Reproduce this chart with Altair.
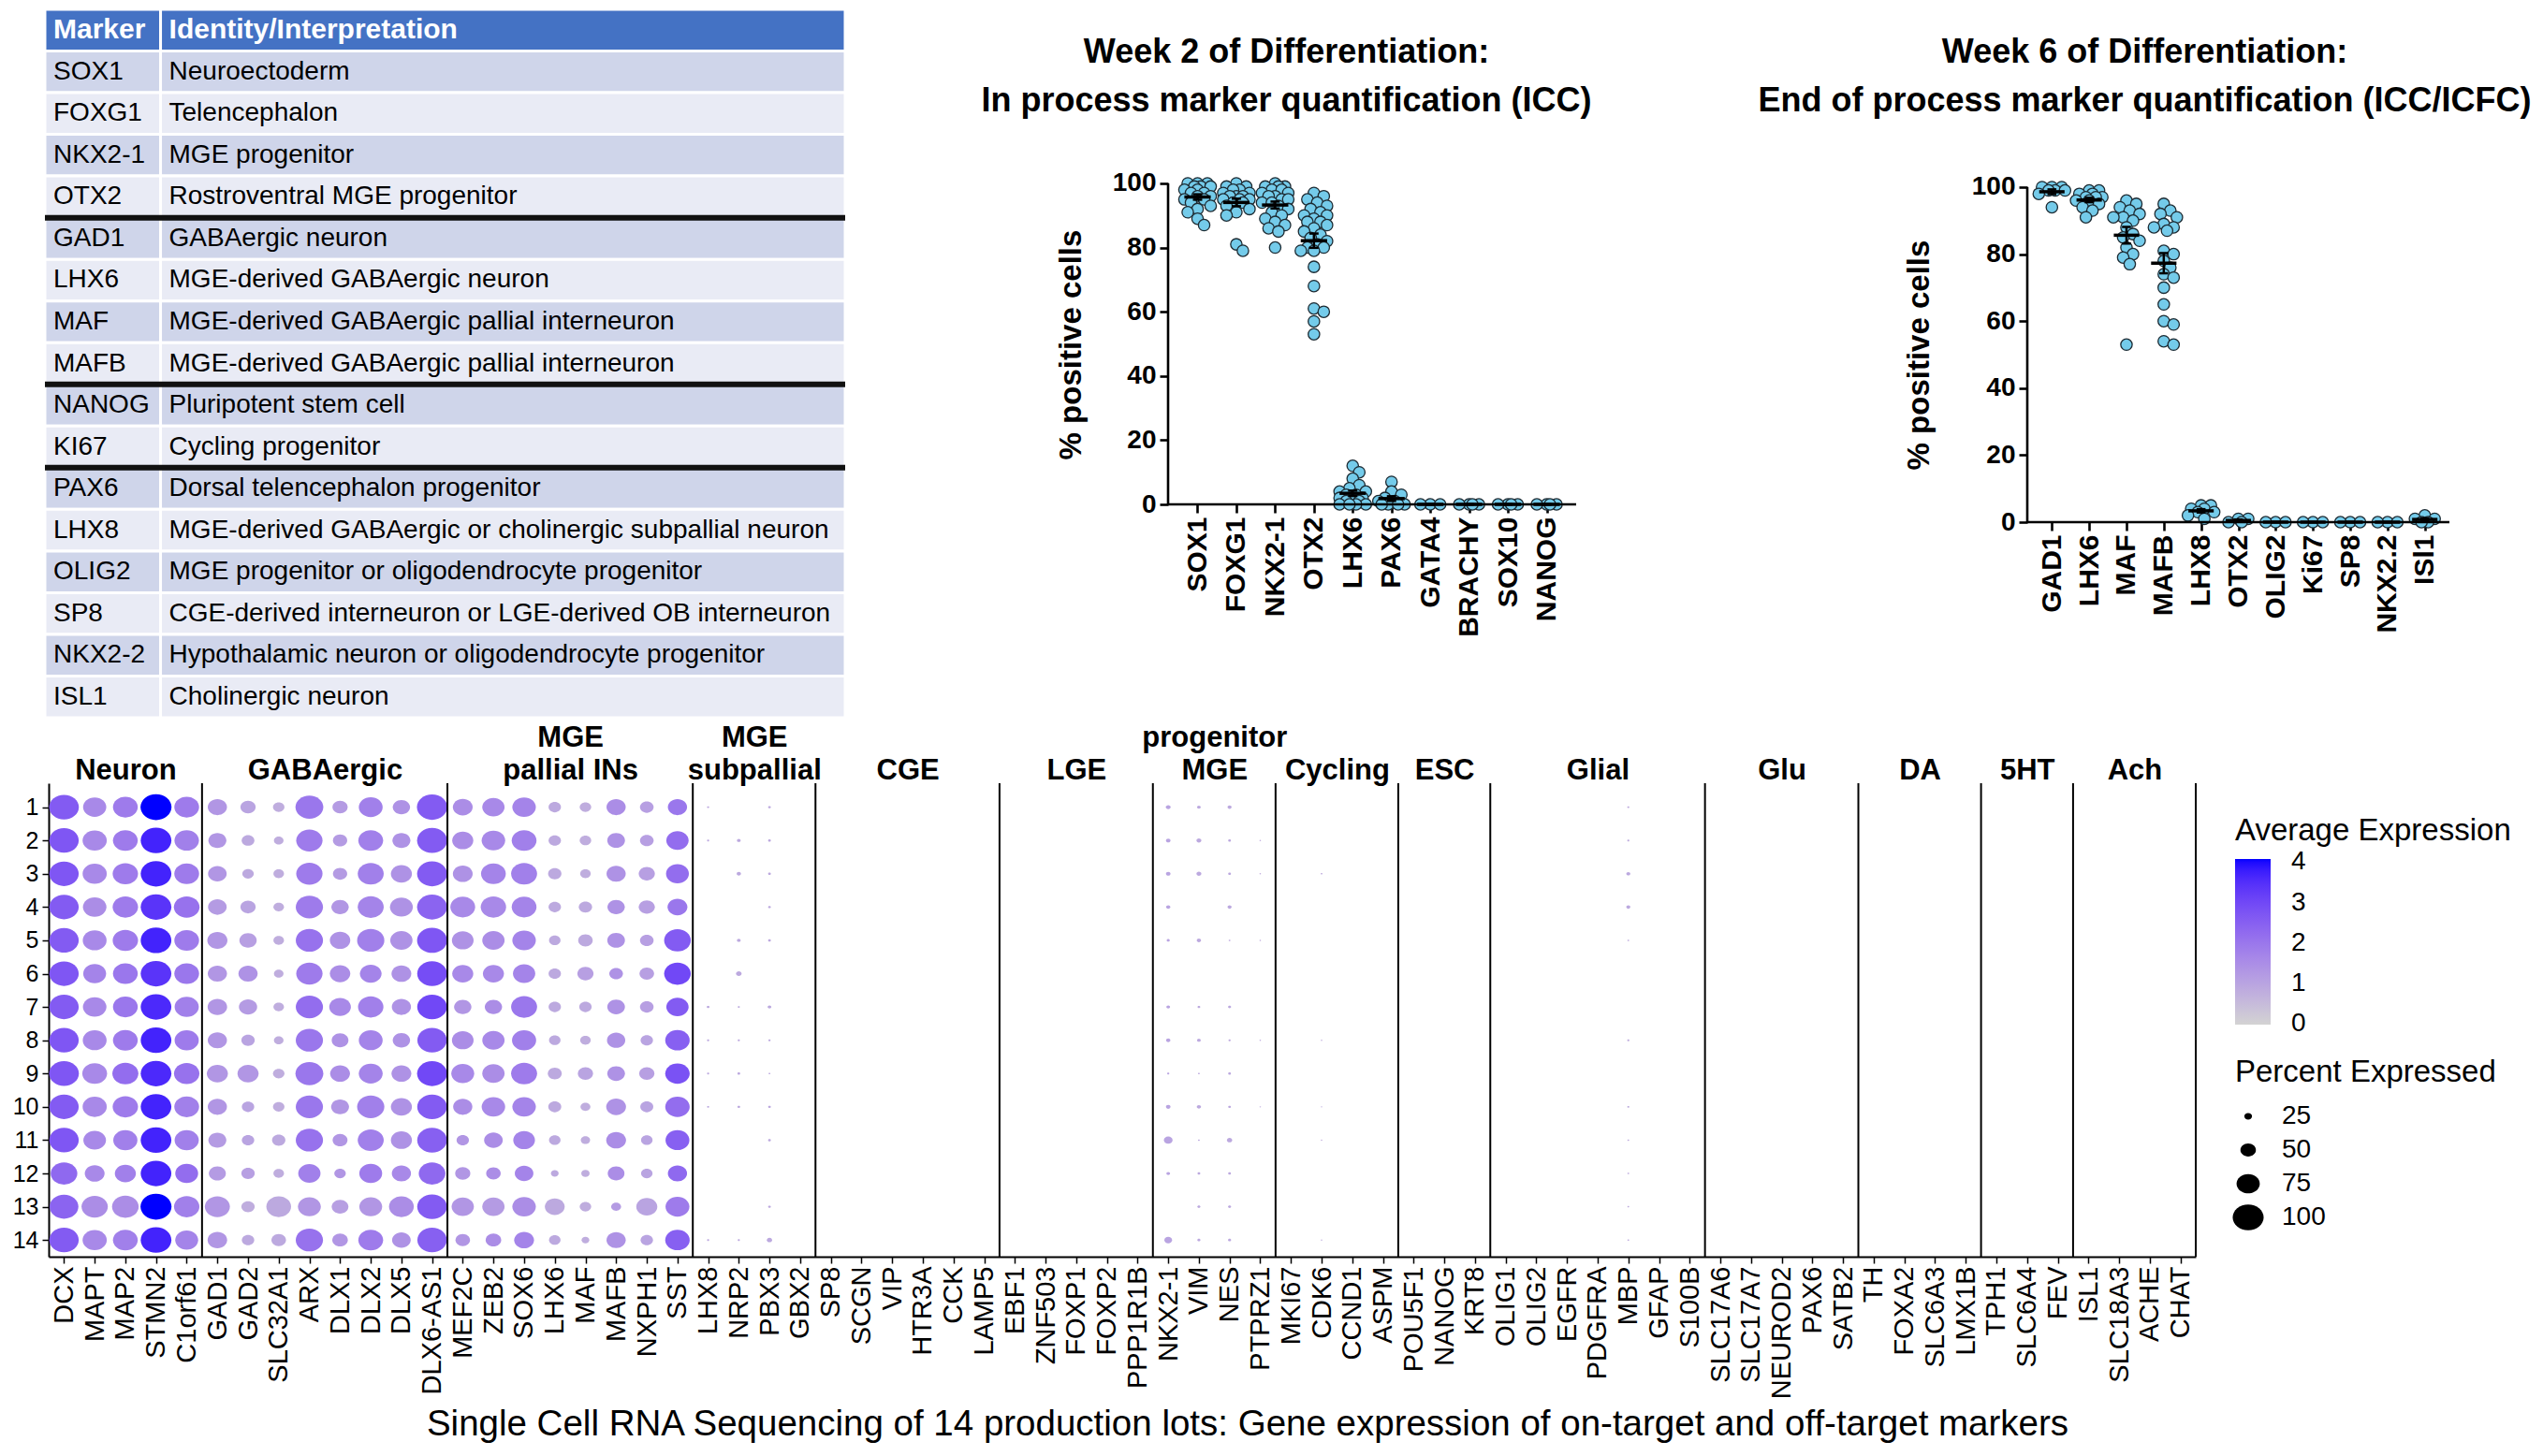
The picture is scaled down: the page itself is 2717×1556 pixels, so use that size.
import altair as alt
import pandas as pd
import numpy as np

SANS = "Liberation Sans, Arial, Helvetica, sans-serif"

# ---------------- Table (top-left) ----------------
TABLE_MARKER = ["Marker", "SOX1", "FOXG1", "NKX2-1", "OTX2", "GAD1", "LHX6", "MAF", "MAFB",
                "NANOG", "KI67", "PAX6", "LHX8", "OLIG2", "SP8", "NKX2-2", "ISL1"]
TABLE_IDENTITY = ["Identity/Interpretation", "Neuroectoderm", "Telencephalon", "MGE progenitor",
                  "Rostroventral MGE progenitor", "GABAergic neuron", "MGE-derived GABAergic neuron",
                  "MGE-derived GABAergic pallial interneuron", "MGE-derived GABAergic pallial interneuron",
                  "Pluripotent stem cell", "Cycling progenitor", "Dorsal telencephalon progenitor",
                  "MGE-derived GABAergic or cholinergic subpallial neuron",
                  "MGE progenitor or oligodendrocyte progenitor",
                  "CGE-derived interneuron or LGE-derived OB interneuron",
                  "Hypothalamic neuron or oligodendrocyte progenitor", "Cholinergic neuron"]
TABLE_BREAKS = [5, 9, 11]
TABLE_COL_SPLIT = 0.1445

# ---------------- Week 2 ICC ----------------
W2_CATS = ["SOX1", "FOXG1", "NKX2-1", "OTX2", "LHX6", "PAX6", "GATA4", "BRACHY", "SOX10", "NANOG"]
w2_SOX1 = [100, 100, 100, 99, 99, 99, 98, 98, 97, 97, 96, 96, 95, 95, 94, 93, 92, 91, 89, 87]
w2_FOXG1 = [100, 99, 99, 98, 98, 97, 97, 96, 96, 96, 95, 95, 95, 94, 94, 93, 92, 91, 90, 81, 79]
w2_NKX21 = [100, 99, 99, 99, 98, 98, 97, 97, 96, 96, 95, 95, 94, 94, 93, 92, 91, 90, 89, 88, 87, 86, 85, 80]
w2_OTX2 = [97, 96, 95, 94, 93, 92, 91, 90, 90, 89, 88, 88, 87, 86, 85, 84, 83, 82, 81, 80, 80, 79, 79,
           74, 68, 61, 60, 57, 53]
w2_LHX6 = [12, 10, 8, 6, 5, 4, 4, 3, 3, 2, 2, 1, 1, 1, 0, 0, 0, 0]
w2_PAX6 = [7, 4, 3, 2, 1, 1, 0, 0, 0, 0]
w2_GATA4 = [0, 0, 0]
w2_BRACHY = [0, 0, 0, 0]
w2_SOX10 = [0, 0, 0, 0]
w2_NANOG = [0, 0, 0, 0]

# ---------------- Week 6 ICC/ICFC ----------------
W6_CATS = ["GAD1", "LHX6", "MAF", "MAFB", "LHX8", "OTX2", "OLIG2", "Ki67", "SP8", "NKX2.2", "ISl1"]
w6_GAD1 = [100, 100, 100, 99, 99, 99, 98, 94]
w6_LHX6 = [99, 99, 98, 98, 97, 97, 97, 96, 96, 95, 94, 93, 91]
w6_MAF = [96, 95, 94, 93, 92, 91, 91, 90, 88, 86, 85, 84, 82, 80, 79, 77, 53]
w6_MAFB = [95, 93, 92, 91, 89, 88, 88, 87, 81, 80, 78, 76, 74, 73, 70, 65, 60, 59, 54, 53]
w6_LHX8 = [5, 5, 4, 4, 3, 3, 2, 1]
w6_OTX2 = [1, 1, 0, 0]
w6_OLIG2 = [0, 0, 0]
w6_KI67 = [0, 0, 0]
w6_SP8 = [0, 0, 0]
w6_NKX22 = [0, 0, 0]
w6_ISL1 = [2, 1, 1, 0, 0]

# ---------------- scRNA-seq dot plot ----------------
GENES = ["DCX", "MAPT", "MAP2", "STMN2", "C1orf61",
         "GAD1", "GAD2", "SLC32A1", "ARX", "DLX1", "DLX2", "DLX5", "DLX6-AS1",
         "MEF2C", "ZEB2", "SOX6", "LHX6", "MAF", "MAFB", "NXPH1", "SST",
         "LHX8", "NRP2", "PBX3", "GBX2",
         "SP8", "SCGN", "VIP", "HTR3A", "CCK", "LAMP5",
         "EBF1", "ZNF503", "FOXP1", "FOXP2", "PPP1R1B",
         "NKX2-1", "VIM", "NES", "PTPRZ1",
         "MKI67", "CDK6", "CCND1", "ASPM",
         "POU5F1", "NANOG", "KRT8",
         "OLIG1", "OLIG2", "EGFR", "PDGFRA", "MBP", "GFAP", "S100B",
         "SLC17A6", "SLC17A7", "NEUROD2", "PAX6", "SATB2",
         "TH", "FOXA2", "SLC6A3", "LMX1B",
         "TPH1", "SLC6A4", "FEV",
         "ISL1", "SLC18A3", "ACHE", "CHAT"]
# "|" separates the two header lines (empty first line for one-line headers)
GROUP_LABELS = ["|Neuron", "|GABAergic", "MGE|pallial INs", "MGE|subpallial", "|CGE", "|LGE",
                "progenitor|MGE", "|Cycling", "|ESC", "|Glial", "|Glu", "|DA", "|5HT", "|Ach"]
GROUP_SIZES = [5, 8, 8, 4, 6, 5, 4, 4, 3, 7, 5, 4, 3, 4]
LOTS = list(range(1, 15))

# percent expressed / average expression per lot (1..14)
PCT_DCX = [96, 95, 95, 95, 95, 95, 95, 95, 96, 95, 95, 86, 93, 95]
AVG_DCX = [2.6, 2.7, 2.7, 2.6, 2.6, 2.7, 2.6, 2.7, 2.7, 2.6, 2.7, 2.3, 2.4, 2.6]
PCT_MAPT = [75, 78, 78, 76, 77, 74, 76, 77, 80, 78, 73, 64, 85, 78]
AVG_MAPT = [1.6, 1.6, 1.6, 1.5, 1.6, 1.7, 1.6, 1.6, 1.6, 1.6, 1.6, 1.6, 1.5, 1.6]
PCT_MAP2 = [80, 80, 82, 82, 82, 80, 80, 80, 84, 82, 78, 68, 86, 80]
AVG_MAP2 = [1.9, 1.9, 1.9, 1.9, 1.9, 2.0, 2.0, 1.9, 2.2, 1.9, 1.8, 1.8, 1.5, 1.8]
PCT_STMN2 = [100, 99, 99, 99, 99, 99, 99, 99, 99, 99, 99, 99, 100, 99]
AVG_STMN2 = [4.1, 3.7, 3.7, 3.4, 3.7, 3.4, 3.6, 3.7, 3.6, 3.7, 3.7, 3.7, 4.1, 3.7]
PCT_C1orf61 = [80, 79, 80, 83, 80, 80, 78, 78, 82, 80, 78, 74, 82, 74]
AVG_C1orf61 = [1.9, 1.8, 1.9, 2.1, 1.9, 2.0, 1.8, 1.9, 2.1, 1.8, 1.8, 2.2, 1.8, 1.7]
PCT_GAD1 = [62, 58, 60, 60, 65, 62, 63, 62, 68, 62, 58, 55, 81, 63]
AVG_GAD1 = [1.3, 1.3, 1.3, 1.2, 1.3, 1.3, 1.3, 1.3, 1.3, 1.3, 1.2, 1.2, 1.3, 1.3]
PCT_GAD2 = [49, 41, 37, 49, 56, 62, 59, 43, 68, 40, 40, 43, 43, 40]
AVG_GAD2 = [1.0, 0.9, 0.9, 1.0, 1.1, 1.4, 1.2, 1.0, 1.3, 1.0, 1.0, 1.1, 0.8, 0.9]
PCT_SLC32A1 = [37, 31, 34, 34, 34, 31, 34, 31, 37, 37, 43, 34, 80, 47]
AVG_SLC32A1 = [0.8, 0.8, 0.8, 0.8, 0.8, 0.8, 0.8, 0.8, 0.8, 0.8, 0.9, 0.8, 0.9, 0.9]
PCT_ARX = [90, 85, 85, 88, 88, 85, 88, 88, 90, 88, 88, 72, 74, 88]
AVG_ARX = [2.0, 1.9, 1.9, 1.9, 2.1, 1.9, 2.2, 2.0, 2.0, 2.0, 2.1, 1.8, 1.3, 2.1]
PCT_DLX1 = [49, 46, 46, 56, 66, 66, 70, 54, 64, 58, 48, 37, 54, 50]
AVG_DLX1 = [1.2, 1.2, 1.2, 1.3, 1.4, 1.5, 1.6, 1.4, 1.5, 1.3, 1.3, 1.3, 1.1, 1.3]
PCT_DLX2 = [77, 80, 84, 84, 88, 70, 82, 77, 77, 88, 84, 74, 74, 80]
AVG_DLX2 = [1.8, 1.8, 1.8, 1.7, 1.8, 1.7, 1.8, 1.7, 1.7, 1.8, 1.8, 1.9, 1.3, 1.9]
PCT_DLX5 = [56, 58, 68, 74, 72, 64, 62, 56, 64, 68, 68, 62, 80, 60]
AVG_DLX5 = [1.4, 1.4, 1.4, 1.4, 1.4, 1.4, 1.4, 1.4, 1.4, 1.4, 1.4, 1.6, 1.5, 1.4]
PCT_DLX6_AS1 = [98, 97, 97, 97, 97, 96, 96, 95, 97, 96, 96, 86, 96, 95]
AVG_DLX6_AS1 = [2.6, 2.6, 2.6, 2.4, 2.7, 2.9, 3.0, 2.6, 3.0, 2.6, 2.5, 2.3, 2.6, 2.5]
PCT_MEF2C = [64, 68, 64, 80, 70, 68, 56, 70, 74, 62, 40, 49, 72, 47]
AVG_MEF2C = [1.5, 1.5, 1.4, 1.6, 1.4, 1.6, 1.3, 1.5, 1.6, 1.5, 1.3, 1.3, 1.3, 1.3]
PCT_ZEB2 = [72, 76, 80, 82, 72, 68, 56, 72, 72, 76, 60, 47, 72, 50]
AVG_ZEB2 = [1.6, 1.6, 1.7, 1.6, 1.5, 1.6, 1.5, 1.6, 1.5, 1.6, 1.5, 1.5, 1.2, 1.5]
PCT_SOX6 = [76, 80, 84, 80, 76, 72, 84, 78, 84, 76, 70, 60, 76, 64]
AVG_SOX6 = [1.7, 1.8, 1.8, 1.7, 1.7, 1.7, 2.0, 1.8, 1.9, 1.7, 1.7, 1.7, 1.5, 1.7]
PCT_LHX6 = [40, 40, 43, 40, 37, 40, 40, 37, 45, 42, 37, 25, 64, 37]
AVG_LHX6 = [0.9, 0.9, 0.9, 0.9, 0.9, 0.9, 0.9, 0.9, 0.9, 0.9, 0.9, 0.9, 0.9, 0.9]
PCT_MAF = [37, 37, 34, 43, 47, 52, 40, 34, 49, 32, 30, 27, 37, 25]
AVG_MAF = [0.8, 0.8, 0.8, 0.9, 0.9, 1.1, 0.9, 0.8, 1.0, 0.8, 0.8, 0.8, 0.8, 0.8]
PCT_MAFB = [62, 57, 62, 56, 57, 44, 57, 59, 57, 64, 64, 54, 32, 62]
AVG_MAFB = [1.5, 1.4, 1.4, 1.4, 1.4, 1.4, 1.4, 1.4, 1.4, 1.4, 1.5, 1.5, 1.2, 1.4]
PCT_NXPH1 = [44, 44, 52, 52, 44, 47, 44, 40, 49, 42, 37, 37, 68, 40]
AVG_NXPH1 = [1.1, 1.1, 1.1, 1.1, 1.1, 1.1, 1.1, 1.0, 1.1, 1.0, 1.0, 1.0, 1.0, 1.0]
PCT_SST = [62, 72, 74, 64, 86, 86, 72, 79, 79, 79, 77, 62, 77, 79]
AVG_SST = [2.0, 2.2, 2.2, 2.0, 2.6, 3.0, 2.6, 2.5, 2.8, 2.2, 2.5, 2.3, 1.9, 2.5]
PCT_LHX8 = [7, 7, 0, 0, 0, 0, 9, 7, 7, 7, 0, 0, 0, 7]
AVG_LHX8 = [0.9, 0.9, 0, 0, 0, 0, 0.9, 0.9, 0.9, 0.9, 0, 0, 0, 0.9]
PCT_NRP2 = [0, 12, 14, 0, 12, 18, 7, 7, 9, 9, 0, 0, 0, 7]
AVG_NRP2 = [0, 0.9, 0.9, 0, 0.9, 0.9, 0.9, 0.9, 0.9, 0.9, 0, 0, 0, 0.9]
PCT_PBX3 = [9, 9, 9, 9, 9, 0, 12, 7, 6, 9, 9, 0, 9, 17]
AVG_PBX3 = [0.9, 0.9, 0.9, 0.9, 0.9, 0, 0.9, 0.9, 0.9, 0.9, 0.9, 0, 0.9, 0.9]
PCT_NKX2_1 = [16, 15, 15, 14, 10, 0, 12, 14, 7, 15, 28, 12, 0, 25]
AVG_NKX2_1 = [1.0, 1.0, 1.0, 1.0, 1.0, 0, 1.0, 1.0, 1.0, 1.0, 1.0, 1.0, 0, 1.0]
PCT_VIM = [12, 16, 16, 0, 14, 0, 9, 12, 6, 14, 6, 9, 10, 10]
AVG_VIM = [0.9, 0.9, 0.9, 0, 0.9, 0, 0.9, 0.9, 0.9, 0.9, 0.9, 0.9, 0.9, 0.9]
PCT_NES = [13, 9, 9, 13, 6, 0, 10, 7, 9, 9, 17, 9, 10, 10]
AVG_NES = [0.9, 0.9, 0.9, 0.9, 0.9, 0, 0.9, 0.9, 0.9, 0.9, 0.9, 0.9, 0.9, 0.9]
PCT_PTPRZ1 = [0, 5, 5, 0, 5, 0, 0, 5, 0, 5, 0, 0, 0, 0]
AVG_PTPRZ1 = [0, 0.8, 0.8, 0, 0.8, 0, 0, 0.8, 0, 0.8, 0, 0, 0, 0]
PCT_CDK6 = [0, 0, 6, 0, 0, 0, 0, 5, 0, 5, 5, 0, 0, 5]
AVG_CDK6 = [0, 0, 0.8, 0, 0, 0, 0, 0.8, 0, 0.8, 0.8, 0, 0, 0.8]
PCT_MBP = [7, 7, 13, 13, 6, 0, 0, 7, 0, 7, 6, 6, 6, 6]
AVG_MBP = [0.8, 0.8, 0.9, 0.9, 0.8, 0, 0, 0.8, 0, 0.8, 0.8, 0.8, 0.8, 0.8]

DOT_SERIES = {
    "DCX": (PCT_DCX, AVG_DCX), "MAPT": (PCT_MAPT, AVG_MAPT), "MAP2": (PCT_MAP2, AVG_MAP2),
    "STMN2": (PCT_STMN2, AVG_STMN2), "C1orf61": (PCT_C1orf61, AVG_C1orf61),
    "GAD1": (PCT_GAD1, AVG_GAD1), "GAD2": (PCT_GAD2, AVG_GAD2), "SLC32A1": (PCT_SLC32A1, AVG_SLC32A1),
    "ARX": (PCT_ARX, AVG_ARX), "DLX1": (PCT_DLX1, AVG_DLX1), "DLX2": (PCT_DLX2, AVG_DLX2),
    "DLX5": (PCT_DLX5, AVG_DLX5), "DLX6-AS1": (PCT_DLX6_AS1, AVG_DLX6_AS1),
    "MEF2C": (PCT_MEF2C, AVG_MEF2C), "ZEB2": (PCT_ZEB2, AVG_ZEB2), "SOX6": (PCT_SOX6, AVG_SOX6),
    "LHX6": (PCT_LHX6, AVG_LHX6), "MAF": (PCT_MAF, AVG_MAF), "MAFB": (PCT_MAFB, AVG_MAFB),
    "NXPH1": (PCT_NXPH1, AVG_NXPH1), "SST": (PCT_SST, AVG_SST),
    "LHX8": (PCT_LHX8, AVG_LHX8), "NRP2": (PCT_NRP2, AVG_NRP2), "PBX3": (PCT_PBX3, AVG_PBX3),
    "NKX2-1": (PCT_NKX2_1, AVG_NKX2_1), "VIM": (PCT_VIM, AVG_VIM), "NES": (PCT_NES, AVG_NES),
    "PTPRZ1": (PCT_PTPRZ1, AVG_PTPRZ1), "CDK6": (PCT_CDK6, AVG_CDK6), "MBP": (PCT_MBP, AVG_MBP),
}

CAPTION = ("Single Cell RNA Sequencing of 14 production lots: Gene expression of "
           "on-target and off-target markers")

# =====================================================================
# Table chart
# =====================================================================
trows = []
for i, (m, t) in enumerate(zip(TABLE_MARKER, TABLE_IDENTITY)):
    kind = "head" if i == 0 else ("dark" if i % 2 == 1 else "light")
    for x0, x1, txt in ((0.0, TABLE_COL_SPLIT, m), (TABLE_COL_SPLIT, 1.0, t)):
        trows.append(dict(r=i, r1=i + 1, rm=i + 0.5, x0=x0, x1=x1, text=txt, kind=kind))
tdf = pd.DataFrame(trows)
t_xs = alt.Scale(domain=[0.00468, 1], nice=False, zero=False)
t_ys = alt.Scale(domain=[0, 17], reverse=True, nice=False, zero=False)

t_cells = alt.Chart(tdf).mark_rect(stroke="white", strokeWidth=3).encode(
    x=alt.X("x0:Q", scale=t_xs, axis=None), x2="x1:Q",
    y=alt.Y("r:Q", scale=t_ys, axis=None), y2="r1:Q",
    color=alt.Color("kind:N", scale=alt.Scale(domain=["head", "dark", "light"],
                                              range=["#4472C4", "#CFD5EA", "#E9EBF5"]), legend=None))
t_body = alt.Chart(tdf[tdf.r > 0]).mark_text(
    align="left", baseline="middle", dx=9, fontSize=28, font=SANS, color="black").encode(
    x=alt.X("x0:Q", scale=t_xs, axis=None), y=alt.Y("rm:Q", scale=t_ys, axis=None), text="text:N")
t_head = alt.Chart(tdf[tdf.r == 0]).mark_text(
    align="left", baseline="middle", dx=9, fontSize=30, font=SANS, fontWeight="bold", color="white").encode(
    x=alt.X("x0:Q", scale=t_xs, axis=None), y=alt.Y("rm:Q", scale=t_ys, axis=None), text="text:N")
t_breaks = alt.Chart(pd.DataFrame({"b": TABLE_BREAKS})).mark_rule(color="#111111", strokeWidth=6).encode(
    y=alt.Y("b:Q", scale=t_ys, axis=None), x=alt.datum(0), x2=alt.datum(1))
table = alt.layer(t_cells, t_body, t_head, t_breaks).properties(width=851, height=757)


# =====================================================================
# Scatter (ICC) charts
# =====================================================================
def swarm(values, ppu, step, r=7.0):
    placed = []
    res = [0.0] * len(values)
    cands = [0.0]
    k = 1
    while k * 0.5 * r <= 0.4 * step:
        cands += [k * 0.5 * r, -k * 0.5 * r]
        k += 1
    order = sorted(range(len(values)), key=lambda i: -values[i])
    for i in order:
        y = values[i] * ppu
        best, bestd = 0.0, -1.0
        for c in cands:
            d = min([np.hypot(c - px, y - py) for px, py in placed], default=1e9)
            if d >= 1.2 * r:
                best = c
                break
            if d > bestd:
                bestd, best = d, c
        placed.append((best, y))
        res[i] = best / step
    return res


def scatter(cats, series, ymax, plot_w, extra_w, height, pad_outer, title_lines, title_dx,
            title_offset, ytitle_x, ytitle_y):
    n = len(cats)
    d0, d1 = -(0.5 + pad_outer), n - 0.5 + pad_outer
    step = plot_w / (d1 - d0)
    dom = [d0, d1 + extra_w / step]
    ppu = height / ymax
    pts, stats = [], []
    for ci, vals in enumerate(series):
        offs = swarm(vals, ppu, step)
        for v, o in zip(vals, offs):
            pts.append(dict(x=ci + o, v=v))
        m = float(np.mean(vals))
        sem = float(np.std(vals, ddof=1) / np.sqrt(len(vals))) if len(vals) > 1 else 0.0
        stats.append(dict(ci=ci, lo=ci - 0.34, hi=ci + 0.34, m=m, ylo=m - sem, yhi=m + sem,
                          clo=ci - 0.12, chi=ci + 0.12))
    pdf, sdf = pd.DataFrame(pts), pd.DataFrame(stats)
    xs = alt.Scale(domain=dom, nice=False, zero=False)
    ys = alt.Scale(domain=[0, ymax], nice=False, zero=False)
    lab = "[" + ",".join("'%s'" % c for c in cats) + "][round(datum.value)]"
    xaxis = alt.Axis(values=list(range(n)), labelExpr=lab, labelAngle=270, labelFontSize=30,
                     labelFontWeight="bold", labelFont=SANS, labelColor="black", tickSize=9,
                     tickWidth=2.6, tickColor="black", domain=False,
                     labelPadding=4, labelOverlap=False, labelFlush=False, title=None, grid=False)
    yaxis = alt.Axis(values=[0, 20, 40, 60, 80, 100], domain=False, labelFontSize=28,
                     labelFontWeight="bold", labelFont=SANS, labelColor="black", tickSize=9,
                     tickWidth=2.6, tickColor="black", labelPadding=4, grid=False,
                     title="% positive cells", titleFontSize=33, titleFontWeight="bold",
                     titleFont=SANS, titleColor="black", titleX=ytitle_x, titleY=ytitle_y,
                     titleAngle=270, titleBaseline="middle", titleAlign="center")
    points = alt.Chart(pdf).mark_circle(size=150, color="#74CBEA", opacity=1, stroke="#1d2b33",
                                        strokeWidth=1.3).encode(
        x=alt.X("x:Q", scale=xs, axis=xaxis), y=alt.Y("v:Q", scale=ys, axis=yaxis))
    yline = alt.Chart(pd.DataFrame({"a": [0], "b": [100]})).mark_rule(
        strokeWidth=2.6, color="black").encode(x=alt.datum(d0), y="a:Q", y2="b:Q")
    xline = alt.Chart(pd.DataFrame({"a": [d0], "b": [d1]})).mark_rule(
        strokeWidth=2.6, color="black").encode(x="a:Q", x2="b:Q", y=alt.datum(0))
    mean = alt.Chart(sdf).mark_rule(strokeWidth=3.5, color="black").encode(
        x="lo:Q", x2="hi:Q", y="m:Q")
    err = alt.Chart(sdf).mark_rule(strokeWidth=2.5, color="black").encode(
        x="ci:Q", y="ylo:Q", y2="yhi:Q")
    cap_lo = alt.Chart(sdf).mark_rule(strokeWidth=2.5, color="black").encode(
        x="clo:Q", x2="chi:Q", y="ylo:Q")
    cap_hi = alt.Chart(sdf).mark_rule(strokeWidth=2.5, color="black").encode(
        x="clo:Q", x2="chi:Q", y="yhi:Q")
    return alt.layer(points, yline, xline, mean, err, cap_lo, cap_hi).properties(
        width=plot_w + extra_w, height=height,
        title=alt.TitleParams(text=title_lines, fontSize=36, font=SANS, fontWeight="bold",
                              color="black", anchor="middle", frame="group", dx=title_dx,
                              offset=title_offset, lineHeight=52))


week2 = scatter(W2_CATS, [w2_SOX1, w2_FOXG1, w2_NKX21, w2_OTX2, w2_LHX6, w2_PAX6, w2_GATA4,
                          w2_BRACHY, w2_SOX10, w2_NANOG],
                ymax=154.2, plot_w=436, extra_w=137, height=529, pad_outer=0.26,
                title_lines=["Week 2 of Differentiation:", "In process marker quantification (ICC)"],
                title_dx=-160, title_offset=-117, ytitle_x=-104, ytitle_y=358)
week6 = scatter(W6_CATS, [w6_GAD1, w6_LHX6, w6_MAF, w6_MAFB, w6_LHX8, w6_OTX2, w6_OLIG2,
                          w6_KI67, w6_SP8, w6_NKX22, w6_ISL1],
                ymax=153.07, plot_w=451, extra_w=0, height=548, pad_outer=0.16,
                title_lines=["Week 6 of Differentiation:",
                             "End of process marker quantification (ICC/ICFC)"],
                title_dx=-100, title_offset=-117, ytitle_x=-116, ytitle_y=369)

# =====================================================================
# Dot plot
# =====================================================================
drows = []
for g, (pcts, avgs) in DOT_SERIES.items():
    gi = GENES.index(g)
    for lot, p, a in zip(LOTS, pcts, avgs):
        if p > 0:
            drows.append(dict(xi=gi + 0.5, row=lot, pct=p, avg=a, gene=g))
ddf = pd.DataFrame(drows)

bounds = [int(b) for b in np.cumsum(GROUP_SIZES)]
starts = [0] + bounds[:-1]
centers = [s + n / 2 for s, n in zip(starts, GROUP_SIZES)]
sdf = pd.DataFrame({"b": bounds})

NG = len(GENES)
xs_d = alt.Scale(domain=[0, NG], nice=False, zero=False)
xs_h = alt.Scale(domain=[0, NG], nice=False, zero=False)
ys_d = alt.Scale(domain=[0.28, 14.5], reverse=True, nice=False, zero=False)

gene_expr = "[" + ",".join("'%s'" % g for g in GENES) + "][floor(datum.value)]"
grp_expr = ("split([" + ",".join("'%s'" % g for g in GROUP_LABELS) + "][indexof([" +
            ",".join(repr(float(c)) for c in centers) + "], datum.value)], '|')")

ELLIPSE = "M -1.2 0 A 1.2 1 0 1 1 1.2 0 A 1.2 1 0 1 1 -1.2 0 Z"

dots = alt.Chart(ddf).mark_point(filled=True, shape=ELLIPSE, opacity=1, strokeWidth=0).encode(
    x=alt.X("xi:Q", scale=xs_d,
            axis=alt.Axis(values=[i + 0.5 for i in range(NG)], labelExpr=gene_expr, labelAngle=270,
                          labelFontSize=29, labelFont=SANS, labelColor="black", tickSize=7,
                          tickWidth=1.5, tickColor="black", domainWidth=2, domainColor="black",
                          labelPadding=3, labelOverlap=False, labelFlush=False, title=None,
                          grid=False)),
    y=alt.Y("row:Q", scale=ys_d,
            axis=alt.Axis(values=LOTS, format="d", labelFontSize=25, labelFont=SANS,
                          labelColor="black", tickSize=7, tickWidth=1.5, tickColor="black",
                          domainWidth=2, domainColor="black", labelPadding=4, title=None,
                          grid=False)),
    size=alt.Size("pct:Q", scale=alt.Scale(type="pow", exponent=2, domain=[0, 100], range=[0, 760]),
                  legend=alt.Legend(title="Percent Expressed", orient="none", legendX=2336,
                                    legendY=1120, values=[25, 50, 75, 100], symbolType=ELLIPSE,
                                    symbolFillColor="black", symbolStrokeColor="black",
                                    symbolStrokeWidth=0, symbolOpacity=1, titleFontSize=33,
                                    titleFontWeight="normal", titleFont=SANS, titleColor="black",
                                    labelFontSize=28, labelFont=SANS, labelColor="black",
                                    rowPadding=8, labelOffset=22, titlePadding=16, titleLimit=600)),
    color=alt.Color("avg:Q", scale=alt.Scale(domain=[-0.02, 4.08], range=["#D3D3D3", "#0000FF"],
                                             interpolate="lab"),
                    legend=alt.Legend(title="Average Expression", orient="none", legendX=2336,
                                      legendY=35, direction="vertical", gradientLength=177,
                                      gradientThickness=38, gradientStrokeWidth=0,
                                      values=[0, 1, 2, 3, 4], titleFontSize=33,
                                      titleFontWeight="normal", titleFont=SANS, titleColor="black",
                                      labelFontSize=28, labelFont=SANS, labelColor="black",
                                      labelOffset=22, titlePadding=13, titleLimit=600)),
)

seps = alt.Chart(sdf).mark_rule(color="black", strokeWidth=2).encode(
    x=alt.X("b:Q", scale=xs_h,
            axis=alt.Axis(orient="top", values=centers, labelExpr=grp_expr, ticks=False,
                          domain=False, labelFontSize=31, labelFontWeight="bold", labelFont=SANS,
                          labelColor="black", labelPadding=33, labelLineHeight=35,
                          labelOverlap=False, labelFlush=False, title=None, grid=False)))

dotplot = alt.layer(dots, seps).resolve_scale(x="independent").resolve_axis(x="independent").properties(
    width=2294, height=506,
    title=alt.TitleParams(text=CAPTION, orient="bottom", anchor="middle", frame="group", dx=134,
                          offset=9, fontSize=38.5, font=SANS, fontWeight="normal", color="black"))

top = alt.HConcatChart(hconcat=[table, week2, week6], spacing=345, bounds="flush")
chart = alt.VConcatChart(vconcat=[top, dotplot], spacing=3).properties(
    padding={"left": 5, "top": 0, "right": 0, "bottom": 0}, background="white"
).configure_view(strokeWidth=0).configure_axis(grid=False)

chart.save("out.html", embed_options={"renderer": "svg", "actions": False})
